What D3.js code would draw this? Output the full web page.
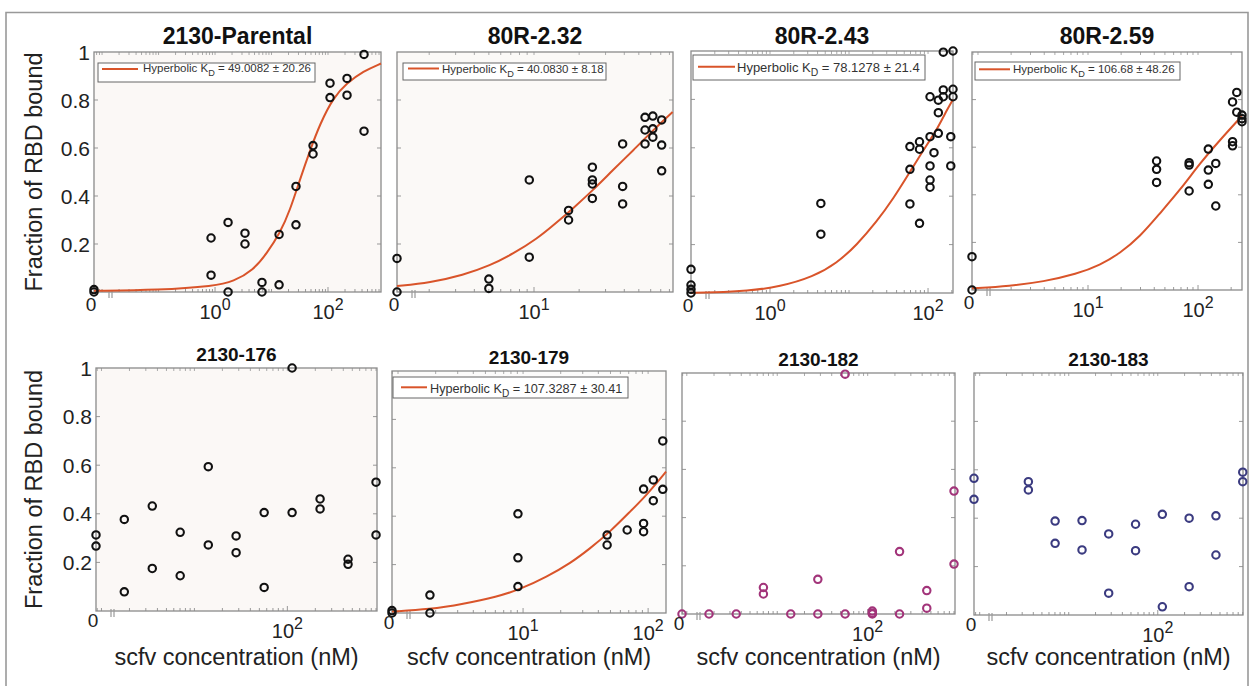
<!DOCTYPE html>
<html>
<head>
<meta charset="utf-8">
<script src="https://cdn.jsdelivr.net/npm/d3@7"></script>
<style>
body { margin: 0; background: #fff; }
svg { display: block; }
text { font-family: "Liberation Sans", Arial, Helvetica, sans-serif; }
</style>
</head>
<body>
<div id="chart"></div>
<script>
// Panel titles, in reading order.
var titles = ["2130-Parental", "80R-2.32", "80R-2.43", "80R-2.59",
              "2130-176", "2130-179", "2130-182", "2130-183"];

// Fit legends (KD values as printed).
var fitLabels = ["49.0082 \u00b1 20.26", "40.0830 \u00b1 8.18", "78.1278 \u00b1 21.4",
                 "106.68 \u00b1 48.26", null, "107.3287 \u00b1 30.41", null, null];

// Decades that get a 10^n label under each panel.
var decadeLabels = [[1, 100], [10], [1, 100], [10, 100], [100], [10, 100], [100], [100]];

var yTicks = [0.2, 0.4, 0.6, 0.8, 1];

// Measured points: concentration (nM, 0 = no scfv) and fraction bound.
var p1Conc = [0, 0, 0.85, 0.85, 1.7, 1.7, 3.39, 3.39, 6.78, 6.78, 13.6, 13.6, 27.1, 27.1, 54.3, 54.3, 108.5, 108.5, 217, 217, 434, 434];
var p1Frac = [0.01, 0.0, 0.225, 0.07, 0.29, 0.0, 0.245, 0.2, 0.04, 0.0, 0.24, 0.03, 0.44, 0.28, 0.61, 0.575, 0.87, 0.81, 0.89, 0.82, 0.99, 0.67];

var p2Conc = [0, 0, 5, 5, 9.3, 9.3, 17, 17, 24.5, 24.5, 24.5, 24.5, 39, 39, 39, 55, 55, 55, 62, 62, 62, 71, 71, 71];
var p2Frac = [0.14, 0.0, 0.054, 0.015, 0.467, 0.145, 0.34, 0.30, 0.52, 0.467, 0.45, 0.39, 0.617, 0.44, 0.367, 0.728, 0.675, 0.617, 0.733, 0.68, 0.645, 0.717, 0.612, 0.505];

var p3Conc = [0, 0, 0, 0, 4.4, 4.4, 59, 59, 59, 78, 78, 78, 106, 106, 106, 106, 106, 119, 135, 135, 135, 156, 156, 156, 194, 194, 207, 207, 207];
var p3Frac = [0.098, 0.033, 0.015, 0.0, 0.37, 0.243, 0.605, 0.511, 0.368, 0.625, 0.594, 0.288, 0.811, 0.646, 0.525, 0.467, 0.437, 0.58, 0.797, 0.745, 0.66, 0.995, 0.839, 0.811, 0.646, 0.525, 1.0, 0.842, 0.811];

var p4Conc = [0, 0, 42, 42, 42, 83, 83, 83, 124, 124, 124, 145, 145, 206, 206, 206, 225, 225, 251, 251, 251];
var p4Frac = [0.14, 0.0, 0.542, 0.507, 0.452, 0.535, 0.525, 0.416, 0.592, 0.504, 0.444, 0.532, 0.353, 0.79, 0.623, 0.606, 0.83, 0.747, 0.735, 0.72, 0.707];

var p5Conc = [0, 0, 1.76, 1.76, 3.52, 3.52, 7.03, 7.03, 14.1, 14.1, 28.1, 28.1, 56.3, 56.3, 112.5, 112.5, 225, 225, 450, 450, 900, 900];
var p5Frac = [0.313, 0.267, 0.377, 0.079, 0.432, 0.175, 0.324, 0.145, 0.594, 0.272, 0.309, 0.24, 0.405, 0.097, 1.0, 0.405, 0.461, 0.42, 0.213, 0.192, 0.53, 0.313];

var p6Conc = [0, 0, 1.8, 1.8, 9.1, 9.1, 9.1, 47, 47, 68, 92, 92, 92, 110, 110, 131, 131];
var p6Frac = [0.01, 0.0, 0.074, 0.0, 0.41, 0.228, 0.109, 0.322, 0.281, 0.343, 0.37, 0.336, 0.512, 0.55, 0.464, 0.711, 0.511];

var p7Conc = [0, 1.76, 3.52, 7.03, 7.03, 14.1, 28.1, 28.1, 56.3, 56.3, 112.5, 112.5, 112.5, 225, 225, 450, 450, 900, 900];
var p7Frac = [0.0, 0.0, 0.0, 0.11, 0.083, 0.0, 0.144, 0.0, 0.995, 0.0, 0.012, 0.003, 0.0, 0.259, 0.0, 0.097, 0.024, 0.51, 0.207];

var p8Conc = [0, 0, 3.52, 3.52, 7.03, 7.03, 14.1, 14.1, 28.1, 28.1, 56.3, 56.3, 112.5, 112.5, 225, 225, 450, 450, 900, 900];
var p8Frac = [0.565, 0.478, 0.551, 0.517, 0.388, 0.296, 0.39, 0.269, 0.335, 0.09, 0.375, 0.266, 0.416, 0.034, 0.4, 0.117, 0.41, 0.248, 0.59, 0.551];

// Fitted hyperbolic curves.
var p1FitConc = [0, 0.1, 1, 2.1, 4.8, 8.2, 14.1, 21.2, 32, 48, 72, 124, 215, 420, 867];
var p1FitFrac = [0.005, 0.008, 0.025, 0.043, 0.092, 0.16, 0.245, 0.34, 0.47, 0.59, 0.70, 0.81, 0.87, 0.92, 0.952];

var p2FitConc = [0, 2.03, 3.38, 5.09, 7.28, 10.4, 14.2, 18.3, 24.8, 33.8, 45.9, 62.4, 84];
var p2FitFrac = [0.025, 0.039, 0.071, 0.11, 0.16, 0.22, 0.29, 0.35, 0.425, 0.51, 0.59, 0.675, 0.75];

var p3FitConc = [0, 0.19, 0.51, 1.34, 3.53, 6.98, 12.5, 22.4, 36.4, 59, 87, 129, 173, 207];
var p3FitFrac = [0.001, 0.002, 0.008, 0.026, 0.067, 0.123, 0.198, 0.295, 0.39, 0.50, 0.59, 0.674, 0.756, 0.80];

var p4FitConc = [0, 1.95, 3.93, 7.9, 12.9, 19.5, 29.7, 45, 68.6, 104, 158, 249];
var p4FitFrac = [0.007, 0.017, 0.035, 0.067, 0.105, 0.154, 0.224, 0.322, 0.42, 0.532, 0.63, 0.73];

var p6FitConc = [0, 1.8, 3.3, 6.2, 9.5, 15.5, 23.8, 34.4, 49.7, 71.8, 97.6, 139];
var p6FitFrac = [0.006, 0.015, 0.037, 0.067, 0.098, 0.15, 0.205, 0.267, 0.336, 0.419, 0.488, 0.584];

var pointSets = [[p1Conc, p1Frac], [p2Conc, p2Frac], [p3Conc, p3Frac], [p4Conc, p4Frac],
                 [p5Conc, p5Frac], [p6Conc, p6Frac], [p7Conc, p7Frac], [p8Conc, p8Frac]];
var fitSets = [[p1FitConc, p1FitFrac], [p2FitConc, p2FitFrac], [p3FitConc, p3FitFrac], [p4FitConc, p4FitFrac],
               null, [p6FitConc, p6FitFrac], null, null];

// Layout for each panel (plot box in px, log domain, colours, legend box).
var layout = [
  { l: 94,  r: 381,  t: 52,  b: 292, lo: 0.0072, hi: 867, color: "#111", bg: "#fbf8f6", row: 0,
    leg: { x: 98, y: 63, w: 217, h: 19, l1: 102, l2: 138, tx: 143, ty: 72, ly: 69, fs: 11.5 } },
  { l: 397, r: 673,  t: 52,  b: 292, lo: 1.22, hi: 84.5, color: "#111", bg: "#fbf9f7", row: 0,
    leg: { x: 403, y: 63, w: 203, h: 17, l1: 408, l2: 439, tx: 442, ty: 72.5, ly: 68.5, fs: 11.5 } },
  { l: 691, r: 953,  t: 51,  b: 293, lo: 0.1, hi: 207, color: "#111", bg: "#ffffff", row: 0,
    leg: { x: 693, y: 55, w: 232, h: 25, l1: 698, l2: 735, tx: 737, ty: 71.5, ly: 66.7, fs: 13 } },
  { l: 972, r: 1242, t: 52,  b: 290, lo: 0.882, hi: 251, color: "#111", bg: "#ffffff", row: 0,
    leg: { x: 975, y: 62, w: 205, h: 18, l1: 979, l2: 1010, tx: 1013, ty: 72.5, ly: 69.3, fs: 11.5 } },
  { l: 96,  r: 377,  t: 368, b: 611, lo: 0.873, hi: 922, color: "#111", bg: "#fbf8f6", row: 1, leg: null },
  { l: 392, r: 666,  t: 371, b: 613, lo: 0.895, hi: 139, color: "#111", bg: "#fcfbfa", row: 1,
    leg: { x: 393, y: 377, w: 235, h: 21, l1: 401, l2: 427, tx: 430, ty: 392.5, ly: 387.3, fs: 12.7 } },
  { l: 682, r: 955,  t: 373, b: 614, lo: 0.885, hi: 923, color: "#a2347a", bg: "#ffffff", row: 1, leg: null },
  { l: 974, r: 1243, t: 373, b: 615, lo: 0.863, hi: 906, color: "#3b3b80", bg: "#ffffff", row: 1, leg: null }
];

var W = 1250, H = 686;
var fitColor = "#d9542a";

var svg = d3.select("#chart").append("svg")
  .attr("width", W)
  .attr("height", H);

// Outer figure frame (top, left, right).
svg.append("path")
  .attr("d", "M6,686 V12.5 H1248 V686")
  .attr("fill", "none")
  .attr("stroke", "#999")
  .attr("stroke-width", 1.6);

layout.forEach(function (L, i) {
  var g = svg.append("g");
  var x = d3.scaleLog().domain([L.lo, L.hi]).range([L.l, L.r]);
  var y = d3.scaleLinear().domain([0, 1]).range([L.b, L.t]);
  // zero concentration sits on the left edge of the broken axis
  var xp = function (c) { return c > 0 ? x(c) : L.l; };

  g.append("rect")
    .attr("x", L.l).attr("y", L.t)
    .attr("width", L.r - L.l).attr("height", L.b - L.t)
    .attr("fill", L.bg);

  // log minor ticks along top and bottom
  var minor = [];
  for (var e = Math.floor(Math.log10(L.lo)); e <= Math.ceil(Math.log10(L.hi)); e++) {
    for (var k = 1; k < 10; k++) {
      var v = k * Math.pow(10, e);
      if (v > L.lo && v < L.hi) minor.push(v);
    }
  }
  g.selectAll(".mb").data(minor).enter().append("line")
    .attr("x1", function (d) { return x(d); }).attr("x2", function (d) { return x(d); })
    .attr("y1", L.b).attr("y2", function (d) { return L.b - (decadeLabels[i].indexOf(d) >= 0 ? 5 : 3); })
    .attr("stroke", "#999").attr("stroke-width", 1);
  g.selectAll(".mt").data(minor).enter().append("line")
    .attr("x1", function (d) { return x(d); }).attr("x2", function (d) { return x(d); })
    .attr("y1", L.t).attr("y2", L.t + 3)
    .attr("stroke", "#aaa").attr("stroke-width", 1);

  // y ticks on both sides
  [L.l, L.r].forEach(function (sx, s) {
    g.selectAll(".yt" + s).data(yTicks.slice(0, 4)).enter().append("line")
      .attr("x1", sx).attr("x2", sx + (s === 0 ? 4 : -4))
      .attr("y1", function (d) { return y(d); }).attr("y2", function (d) { return y(d); })
      .attr("stroke", "#999").attr("stroke-width", 1);
  });

  g.append("rect")
    .attr("x", L.l).attr("y", L.t)
    .attr("width", L.r - L.l).attr("height", L.b - L.t)
    .attr("fill", "none")
    .attr("stroke", "#8a8a8a")
    .attr("stroke-width", 1.3);

  // axis break mark
  [0, 3].forEach(function (dx) {
    g.append("line")
      .attr("x1", L.l + 15 + dx).attr("x2", L.l + 15 + dx)
      .attr("y1", L.b - 2).attr("y2", L.b + 6)
      .attr("stroke", "#999").attr("stroke-width", 1.2);
  });

  // fitted curve
  var fit = fitSets[i];
  if (fit) {
    var fitData = fit[0].map(function (c, j) { return [c, fit[1][j]]; });
    g.append("path")
      .datum(fitData)
      .attr("fill", "none")
      .attr("stroke", fitColor)
      .attr("stroke-width", 2)
      .attr("d", d3.line()
        .x(function (d) { return xp(d[0]); })
        .y(function (d) { return y(d[1]); })
        .curve(d3.curveBasis));
  }

  // data points
  var pts = pointSets[i][0].map(function (c, j) { return [c, pointSets[i][1][j]]; });
  g.selectAll(".pt").data(pts).enter().append("circle")
    .attr("cx", function (d) { return xp(d[0]); })
    .attr("cy", function (d) { return y(d[1]); })
    .attr("r", 3.7)
    .attr("fill", "none")
    .attr("stroke", L.color)
    .attr("stroke-width", 2.1);

  // legend
  if (L.leg && fitLabels[i]) {
    var lg = L.leg;
    g.append("rect")
      .attr("x", lg.x).attr("y", lg.y).attr("width", lg.w).attr("height", lg.h)
      .attr("fill", "#fff").attr("stroke", "#666").attr("stroke-width", 1);
    g.append("line")
      .attr("x1", lg.l1).attr("x2", lg.l2).attr("y1", lg.ly).attr("y2", lg.ly)
      .attr("stroke", fitColor).attr("stroke-width", 2);
    var lt = g.append("text")
      .attr("x", lg.tx).attr("y", lg.ty)
      .attr("font-size", lg.fs)
      .attr("fill", "#333");
    lt.append("tspan").text("Hyperbolic K");
    lt.append("tspan").attr("dy", lg.fs * 0.35).attr("font-size", lg.fs * 0.8).text("D");
    lt.append("tspan").attr("dy", -lg.fs * 0.35).text(" = " + fitLabels[i]);
  }

  // title
  g.append("text")
    .attr("x", (L.l + L.r) / 2)
    .attr("y", L.row === 0 ? 44 : L.t - 7)
    .attr("text-anchor", "middle")
    .attr("font-weight", "bold")
    .attr("font-size", L.row === 0 ? 23 : 19)
    .attr("fill", "#111")
    .text(titles[i]);

  // x tick labels: 0 and decades
  g.append("text")
    .attr("x", L.l - 3).attr("y", L.b + (L.row === 0 ? 19 : 16))
    .attr("text-anchor", "middle")
    .attr("font-size", 19)
    .attr("fill", "#222")
    .text("0");
  decadeLabels[i].forEach(function (d) {
    var t = g.append("text")
      .attr("x", x(d)).attr("y", L.b + 27)
      .attr("text-anchor", "middle")
      .attr("font-size", 20)
      .attr("fill", "#222");
    t.append("tspan").text("10");
    t.append("tspan").attr("dy", -9).attr("font-size", 16).text(String(Math.round(Math.log10(d))));
  });

  // y tick labels on the left column
  if (i === 0 || i === 4) {
    g.selectAll(".yl").data(yTicks).enter().append("text")
      .attr("x", L.l - 4)
      .attr("y", function (d) { return y(d); })
      .attr("dy", "0.36em")
      .attr("text-anchor", "end")
      .attr("font-size", 21)
      .attr("fill", "#222")
      .text(function (d) { return String(d); });

    g.append("text")
      .attr("transform", "translate(42," + ((L.t + L.b) / 2) + ") rotate(-90)")
      .attr("text-anchor", "middle")
      .attr("font-size", 23.5)
      .attr("fill", "#222")
      .text("Fraction of RBD bound");
  }

  if (L.row === 1) {
    g.append("text")
      .attr("x", (L.l + L.r) / 2)
      .attr("y", 665)
      .attr("text-anchor", "middle")
      .attr("font-size", 23.5)
      .attr("fill", "#222")
      .text("scfv concentration (nM)");
  }
});
</script>
</body>
</html>
